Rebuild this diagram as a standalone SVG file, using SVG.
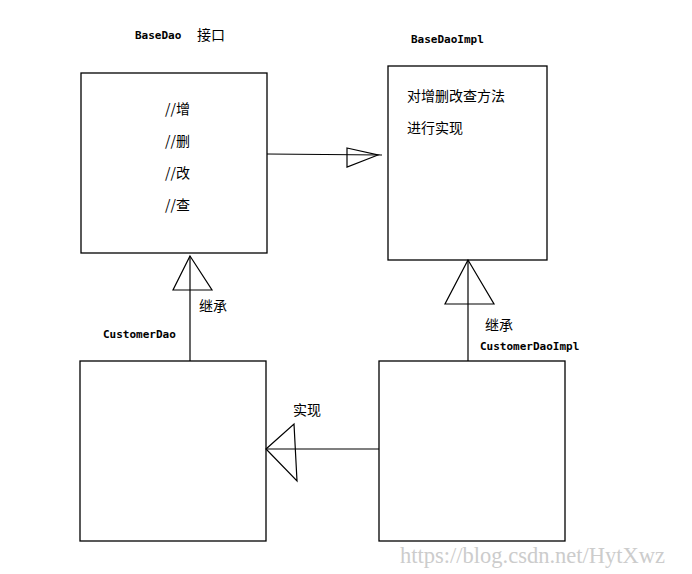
<svg xmlns="http://www.w3.org/2000/svg" width="692" height="574" viewBox="0 0 692 574">
<style>
.box{fill:#fff;stroke:#000;stroke-width:1.3}
.ln{fill:none;stroke:#000;stroke-width:1.2}
.lb{font-family:"DejaVu Sans Mono","Liberation Mono",monospace;font-weight:bold;font-size:11px;fill:#000}
.cn{font-family:"Noto Sans CJK SC",sans-serif;font-size:14px;fill:#000}
.wm{font-family:"Liberation Serif",serif;font-size:22.5px;fill:#ccc}
</style>
<rect width="692" height="574" fill="#fff"/>
<g id="BaseDao">
<rect class="box" x="81" y="73" width="186" height="180"/>
<text class="lb" x="135" y="39">BaseDao</text>
<text class="cn" x="197" y="40">接口</text>
<text class="cn" x="165" y="114">//增</text>
<text class="cn" x="165" y="146">//删</text>
<text class="cn" x="165" y="178">//改</text>
<text class="cn" x="165" y="210">//查</text>
</g>
<g id="BaseDaoImpl">
<rect class="box" x="388" y="66" width="159" height="194"/>
<text class="lb" x="411" y="43">BaseDaoImpl</text>
<text class="cn" x="407" y="101">对增删改查方法</text>
<text class="cn" x="407" y="133">进行实现</text>
</g>
<g id="CustomerDao">
<rect class="box" x="80" y="361" width="186" height="180"/>
<text class="lb" x="103" y="338">CustomerDao</text>
</g>
<g id="CustomerDaoImpl">
<rect class="box" x="379" y="361" width="186" height="180"/>
<text class="lb" x="480" y="350">CustomerDaoImpl</text>
</g>
<g id="connectors">
<line class="ln" x1="267" y1="154" x2="382" y2="155"/>
<polygon class="ln" points="347,148 378,155 347,167"/>
<line class="ln" x1="190" y1="256" x2="190" y2="361"/>
<polygon class="ln" points="190,256 212,290 173,290"/>
<text class="cn" x="199" y="311">继承</text>
<line class="ln" x1="468" y1="260" x2="468" y2="361"/>
<polygon class="ln" points="468,260 494,304 445,304"/>
<text class="cn" x="485" y="330">继承</text>
<line class="ln" x1="266" y1="449" x2="379" y2="449"/>
<polygon class="ln" points="266,449 294,424 297,481"/>
<text class="cn" x="293" y="415">实现</text>
</g>
<text class="wm" x="400" y="563">https://blog.csdn.net/HytXwz</text>
</svg>
